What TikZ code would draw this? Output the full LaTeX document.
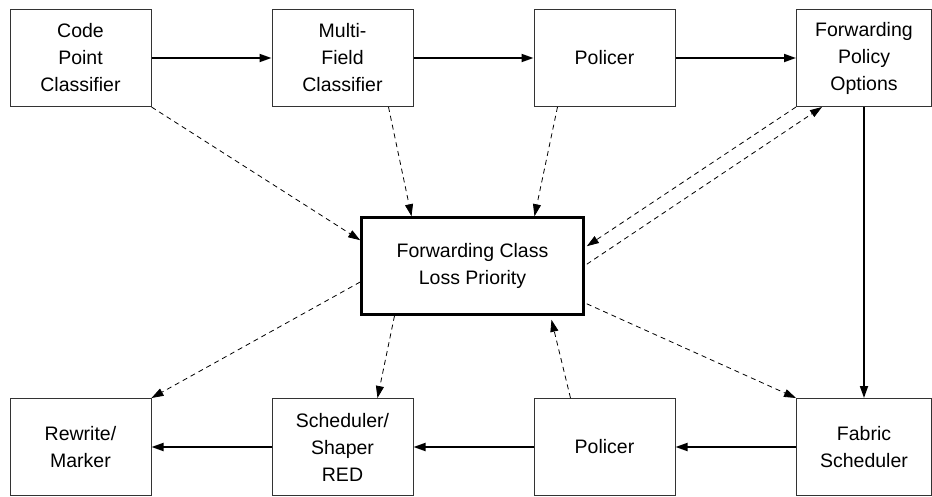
\documentclass[tikz,border=0pt]{standalone}
\usepackage{fontspec}
\setmainfont{Liberation Sans}
\usetikzlibrary{arrows.meta,positioning,calc}

\tikzset{
  box/.style={draw=black!80, line width=1pt, minimum width=141pt, minimum height=97pt,
    align=center, font=\fontsize{19.5}{27}\selectfont, inner sep=2pt},
  mainbox/.style={box, draw=black, line width=2.6pt, minimum width=222pt, minimum height=97pt},
  flow/.style={-{Triangle[length=12pt,width=8pt]}, line width=1.8pt},
  info/.style={-{Triangle[length=12pt,width=8pt]}, dashed, line width=0.8pt, dash pattern=on 5pt off 4pt}
}

\begin{document}
\begin{tikzpicture}[x=1pt, y=-1pt]
             \useasboundingbox (0,0) rectangle (932,496);

             % top row
             \node[box] (cpc) at (80.5,58) {Code\\Point\\Classifier};
             \node[box] (mfc) at (342.5,58) {Multi-\\Field\\Classifier};
             \node[box] (polin) at (604.5,58) {Policer};
             \node[box, minimum width=135pt] (fpo) at (864,58) {Forwarding\\Policy\\Options};

             % bottom row
             \node[box] (rew) at (80.5,447) {Rewrite/\\Marker};
             \node[box] (sched) at (342.5,447) {Scheduler/\\Shaper\\RED};
             \node[box] (polout) at (604.5,447) {Policer};
             \node[box, minimum width=135pt] (fab) at (864,447) {Fabric\\Scheduler};

             \node[mainbox] (fc) at (472.5,266) {Forwarding Class\\Loss Priority};

             % packet flow
             \draw[flow] (cpc) -- (mfc);
             \draw[flow] (mfc) -- (polin);
             \draw[flow] (polin) -- (fpo);
             \draw[flow] (fpo) -- (fab);
             \draw[flow] (fab) -- (polout);
             \draw[flow] (polout) -- (sched);
             \draw[flow] (sched) -- (rew);

             % class and priority
             \draw[info] (cpc.south east) -- ([yshift=-24pt]fc.north west);
             \draw[info] ([xshift=46pt]mfc.south) -- ([xshift=-61pt]fc.north);
             \draw[info] ([xshift=-47pt]polin.south) -- ([xshift=62pt]fc.north);
             \draw[info] (fpo.south west) -- ([xshift=2pt,yshift=-30pt]fc.north east);
             \draw[info] ([xshift=2pt,yshift=-48pt]fc.north east) -- ([xshift=26pt]fpo.south west);
             \draw[info] ([xshift=2pt,yshift=12pt]fc.south east) -- (fab.north west);
             \draw[info] ([xshift=-34pt]polout.north) -- ([xshift=79pt,yshift=-4pt]fc.south);
             \draw[info] ([xshift=-78pt]fc.south) -- ([xshift=35pt]sched.north);
             \draw[info] ([yshift=-16pt]fc.west) -- (rew.north east);
        \end{tikzpicture}
\end{document}
